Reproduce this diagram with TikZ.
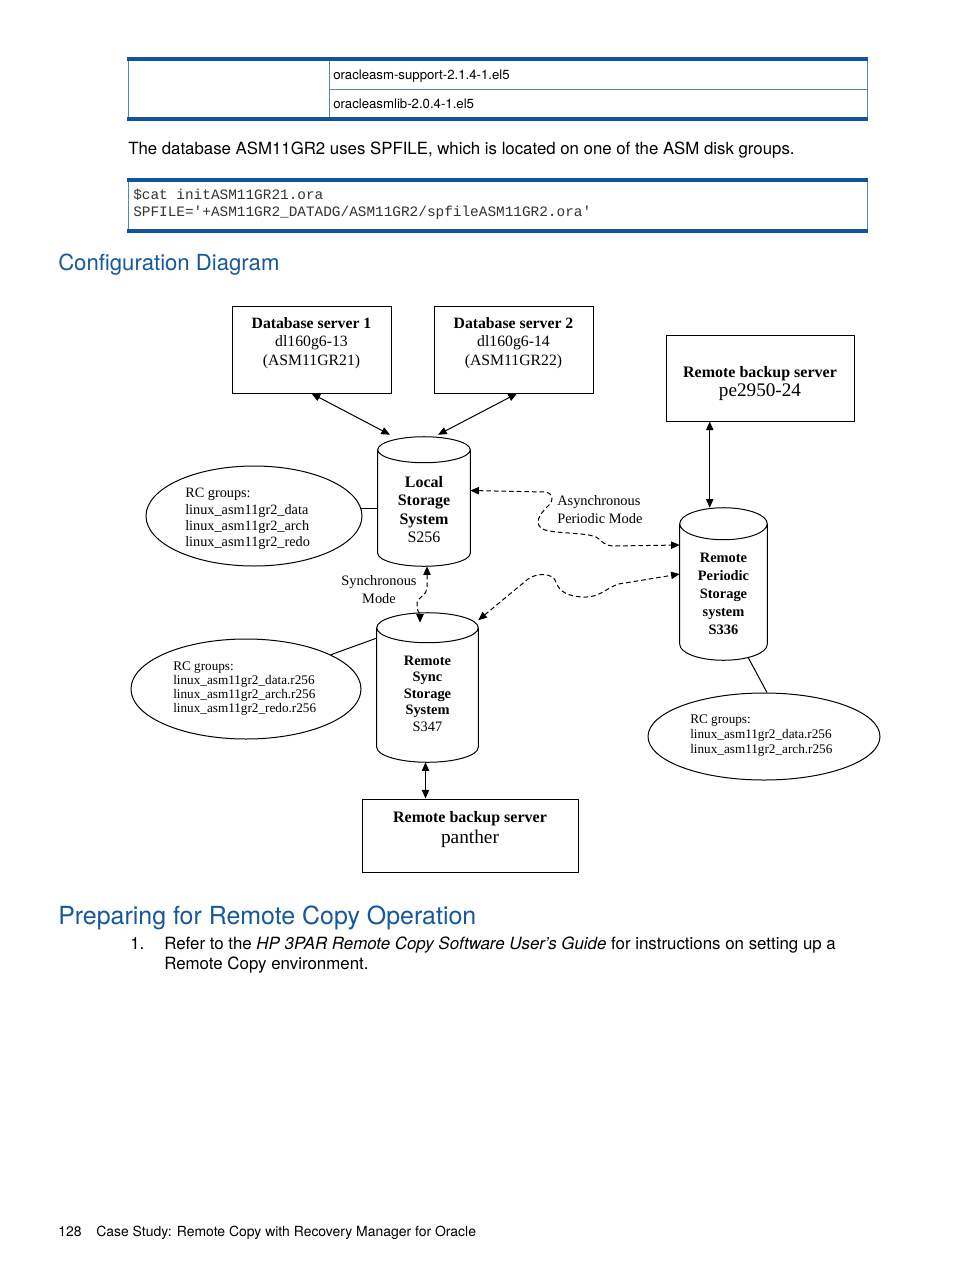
\documentclass[tikz,border=0pt]{standalone}
\usepackage{fontspec}
\setmainfont{TeX Gyre Heros}
\newfontfamily\diagfont{Liberation Serif}
\newfontfamily\codefont{Liberation Mono}
\usepackage{tikz}
\usetikzlibrary{shapes.geometric,arrows.meta,calc}
\definecolor{hpblue}{RGB}{23,88,156}
\definecolor{hpline}{RGB}{14,84,158}
\tikzset{
	srvbox/.style={rectangle, draw, line width=0.75pt, inner sep=0pt},
	cylbody/.style={rectangle, inner sep=0pt},
	rcgroup/.style={ellipse, draw, line width=0.75pt, inner sep=0pt},
	dtext/.style={inner sep=0pt, align=center},
	biarrow/.style={line width=0.75pt, {Triangle[length=6.5pt,width=5.5pt]}-{Triangle[length=6.5pt,width=5.5pt]}},
	rclink/.style={biarrow, dash pattern=on 3.5pt off 2.2pt},
	pagetext/.style={inner sep=0pt, anchor=base west}
}
\newcommand{\bodyfont}{\fontsize{12.6}{15}\selectfont}
\newcommand{\drawcyl}[2]{% #1 body node, #2 radius of the caps
	\draw[line width=0.75pt] let \p1=(#1.north west), \p2=(#1.south east), \n1={(\x2-\x1)/2} in
		(\x1+\n1,\y1-#2) ellipse [x radius=\n1, y radius=#2]
		(\x1,\y1-#2) -- (\x1,\y2+#2) arc [start angle=180, end angle=360, x radius=\n1, y radius=#2] -- (\x2,\y1-#2);
}
\begin{document}
\begin{tikzpicture}[x=0.75pt,y=-0.75pt]
\path[fill=white] (0,0) rectangle (954,1271);
\useasboundingbox (0,0) rectangle (954,1271);
% package table
\draw[line width=0.6pt, hpline!70] (128,59) rectangle (867,119);
\draw[line width=0.6pt, hpline!70] (329,59) -- (329,119) (329,89) -- (867,89);
\draw[line width=3pt, hpline] (127,59) -- (868,59) (127,119) -- (868,119);
\node[pagetext, font=\fontsize{9.9}{12}\selectfont] (pkga) at (333,79) {oracleasm-support-2.1.4-1.el5};
\node[pagetext, font=\fontsize{9.9}{12}\selectfont] (pkgb) at (333,108) {oracleasmlib-2.0.4-1.el5};
\node[pagetext, font=\bodyfont] (intro) at (128,154) {The database ASM11GR2 uses SPFILE, which is located on one of the ASM disk groups.};
% code box
\draw[line width=0.6pt, hpline!70] (128,180) rectangle (867,231);
\draw[line width=3pt, hpline] (127,180) -- (868,180) (127,231) -- (868,231);
\node[pagetext, font=\codefont\fontsize{10.8}{13}\selectfont, text=black!80] (codea) at (133,199) {\$cat initASM11GR21.ora};
\node[pagetext, font=\codefont\fontsize{10.8}{13}\selectfont, text=black!80] (codeb) at (133,216) {SPFILE=\textquotesingle+ASM11GR2\_DATADG/ASM11GR2/spfileASM11GR2.ora\textquotesingle};
\node[pagetext, font=\fontsize{16.6}{20}\selectfont, text=hpblue] (headcfg) at (58,270) {Configuration Diagram};

% servers
\node[srvbox, minimum width=119.25pt, minimum height=65.25pt] (db1) at (311.5,349.5) {};
\node[srvbox, minimum width=119.25pt, minimum height=65.25pt] (db2) at (513.5,349.5) {};
\node[srvbox, minimum width=141pt, minimum height=64.5pt] (rbs) at (760,378) {};
\node[srvbox, minimum width=162pt, minimum height=54.75pt] (pnt) at (470,835.5) {};
\node[dtext, font=\diagfont\fontsize{11.8}{13.9}\selectfont] (db1txt) at (311.5,343) {\textbf{Database server 1}\\dl160g6-13\\(ASM11GR21)};
\node[dtext, font=\diagfont\fontsize{11.8}{13.9}\selectfont] (db2txt) at (513.5,343) {\textbf{Database server 2}\\dl160g6-14\\(ASM11GR22)};
\node[dtext, font=\diagfont\fontsize{12}{14.25}\selectfont] (rbstxt) at (760,383) {\textbf{Remote backup server}\\\fontsize{14.4}{14.25}\selectfont pe2950-24};
\node[dtext, font=\diagfont\fontsize{12}{15.75}\selectfont] (pnttxt) at (470,829) {\textbf{Remote backup server}\\\fontsize{14.5}{15.75}\selectfont panther};

% storage systems
\node[cylbody, minimum width=69pt, minimum height=96.75pt] (lss) at (424,501.5) {};
\node[cylbody, minimum width=65.25pt, minimum height=114pt] (rps) at (723.5,584) {};
\node[cylbody, minimum width=75.75pt, minimum height=111.75pt] (sss) at (427.5,687.5) {};
\drawcyl{lss}{9.75pt}
\drawcyl{rps}{12pt}
\drawcyl{sss}{11.25pt}
\node[dtext, font=\diagfont\fontsize{12}{13.7}\selectfont] (lsstxt) at (424,509.5) {\textbf{Local}\\\textbf{Storage}\\\textbf{System}\\S256};
\node[dtext, font=\diagfont\fontsize{10.8}{13.5}\selectfont] (rpstxt) at (723.5,594) {\textbf{Remote}\\\textbf{Periodic}\\\textbf{Storage}\\\textbf{system}\\\textbf{S336}};
\node[dtext, font=\diagfont\fontsize{10.8}{12.4}\selectfont] (ssstxt) at (427.5,693.5) {\textbf{Remote}\\\textbf{Sync}\\\textbf{Storage}\\\textbf{System}\\S347};

% rc groups
\node[rcgroup, minimum width=162pt, minimum height=75pt] (grpa) at (254,516) {};
\node[rcgroup, minimum width=172.5pt, minimum height=75pt] (grpb) at (246,689) {};
\node[rcgroup, minimum width=174pt, minimum height=65.25pt] (grpc) at (764,736.5) {};
\node[dtext, align=left, anchor=west, font=\diagfont\fontsize{10.7}{12.2}\selectfont] (grpatxt) at (185,519) {RC groups:\\linux\_asm11gr2\_data\\linux\_asm11gr2\_arch\\linux\_asm11gr2\_redo};
\node[dtext, align=left, anchor=west, font=\diagfont\fontsize{9.9}{10.7}\selectfont] (grpbtxt) at (173,688.5) {RC groups:\\linux\_asm11gr2\_data.r256\\linux\_asm11gr2\_arch.r256\\linux\_asm11gr2\_redo.r256};
\node[dtext, align=left, anchor=west, font=\diagfont\fontsize{9.9}{11.25}\selectfont] (grpctxt) at (690,736) {RC groups:\\linux\_asm11gr2\_data.r256\\linux\_asm11gr2\_arch.r256};

% links
\draw[biarrow] (db1.south) -- ([xshift=-25.5pt,yshift=1.5pt]lss.north);
\draw[biarrow] ([xshift=2.6pt]db2.south) -- ([xshift=10.5pt,yshift=1.5pt]lss.north);
\coordinate (rbsport) at ([xshift=-37.7pt]rbs.south);
\draw[biarrow] (rbsport) -- (rbsport |- rps.north);
\coordinate (sssport) at ([xshift=-1.5pt]sss.south);
\draw[biarrow] (sssport) -- (sssport |- pnt.north);
\draw[line width=0.75pt] (grpa.4) -- (grpa.4 -| lss.west);
\draw[line width=0.75pt] (grpb.22) -- ([yshift=-19pt]sss.north west);
\draw[line width=0.75pt] ([xshift=18.4pt,yshift=2.25pt]rps.south) -- ([xshift=2.25pt]grpc.north);

% remote copy links
\draw[rclink] ([yshift=8.25pt]lss.east) -- (546,492) .. controls (553,494) and (554,500) .. (549,505) .. controls (543,511) and (533,521) .. (541,528) .. controls (548,534) and (585,532) .. (596,537) .. controls (603,541) and (603,546) .. (615,546) -- ([yshift=29.25pt]rps.west);
\draw[rclink] ([yshift=-5.6pt]sss.north east) -- (528,579) .. controls (538,572) and (552,574) .. (555,580) .. controls (558,588) and (562,596) .. (583,597) .. controls (603,598) and (608,584) .. (625,583) -- ([yshift=7.5pt]rps.west);
\draw[rclink] ([xshift=2.25pt]lss.south) -- (427,588) .. controls (427,595) and (418,597) .. (417,603) .. controls (416,610) and (420,614) .. ([xshift=-5.6pt,yshift=-7.5pt]sss.north);
\node[dtext, align=left, anchor=west, font=\diagfont\fontsize{10.8}{13.5}\selectfont] (asynclbl) at (557,510) {Asynchronous\\Periodic Mode};
\node[dtext, font=\diagfont\fontsize{10.8}{13.5}\selectfont] (synclbl) at (379,590) {Synchronous\\Mode};

% next section
\node[pagetext, font=\fontsize{18.7}{22}\selectfont, text=hpblue] (headprep) at (58,924) {Preparing for Remote Copy Operation};
\node[pagetext, font=\bodyfont] (stepnum) at (130,949) {1.};
\node[pagetext, font=\fontsize{12.66}{15}\selectfont] (stepa) at (164,949) {Refer to the \textit{HP 3PAR Remote Copy Software User’s Guide} for instructions on setting up a};
\node[pagetext, font=\fontsize{12.66}{15}\selectfont] (stepb) at (164,969) {Remote Copy environment.};
\node[pagetext, font=\fontsize{10.45}{12}\selectfont] (pgnum) at (58,1236) {128};
\node[pagetext, font=\fontsize{10.45}{12}\selectfont] (pgtitle) at (96,1236) {Case Study: Remote Copy with Recovery Manager for Oracle};
\end{tikzpicture}
\end{document}
